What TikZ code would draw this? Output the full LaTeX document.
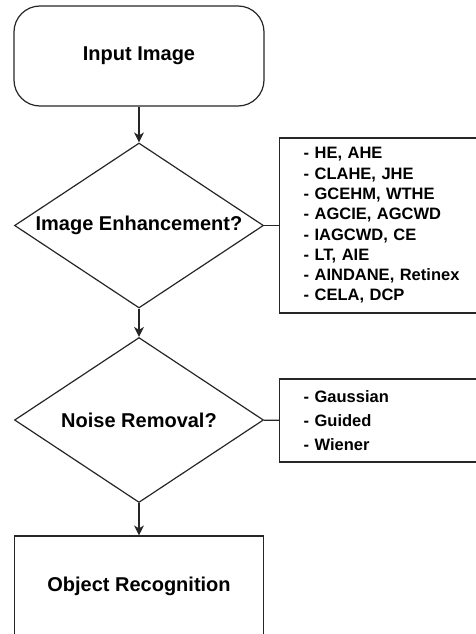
\documentclass[tikz,border=0pt]{standalone}
\usepackage{fontspec}
\setmainfont{Liberation Sans}
\usetikzlibrary{shapes.geometric,arrows.meta}

\newcommand{\titlefont}{\fontsize{20}{24}\selectfont\bfseries}

\begin{document}
\begin{tikzpicture}[x=1pt, y=-1pt, >={Stealth[length=10pt,width=10pt,inset=3pt]},
		line width=1.2pt, draw=black!85, font=\titlefont,
		startbox/.style={rectangle, draw, rounded corners=26pt, minimum width=250pt, minimum height=100pt},
		decision/.style={diamond, draw, inner sep=0pt, minimum width=249pt, minimum height=165pt},
		stepbox/.style={rectangle, draw, minimum width=249pt, minimum height=100pt},
		listbox/.style={rectangle, draw, align=left, text width=212pt, inner xsep=24pt, anchor=west,
			font=\fontsize{16.5}{#1}\selectfont\bfseries}]
		\useasboundingbox (0,0) rectangle (476,634);
		\clip (0,0) rectangle (476,634);
		% main column
		\node[startbox] (input) at (139,56) {Input Image};
		\node[decision, label={center:Image Enhancement?}] (enh) at (139,225.5) {};
		\node[decision, label={center:Noise Removal?}] (noise) at (139,420) {};
		\node[stepbox] (obj) at (139,586) {Object Recognition};
		\draw[->] (input.south) -- (enh.north);
		\draw[->] (enh.south) -- (noise.north);
		\draw[->] (noise.south) -- (obj.north);
		% method lists
		\node[listbox=20.3pt, minimum height=175pt] (enhlist) at (279,225.5)
			{- HE, AHE\\- CLAHE, JHE\\- GCEHM, WTHE\\- AGCIE, AGCWD\\- IAGCWD, CE\\- LT, AIE\\- AINDANE, Retinex\\- CELA, DCP};
		\node[listbox=24pt, minimum height=83pt] (noiselist) at (279,420.5)
			{- Gaussian\\- Guided\\- Wiener};
		\draw (enh) -- (enhlist);
		\draw (noise) -- (noiselist);
	\end{tikzpicture}
\end{document}
